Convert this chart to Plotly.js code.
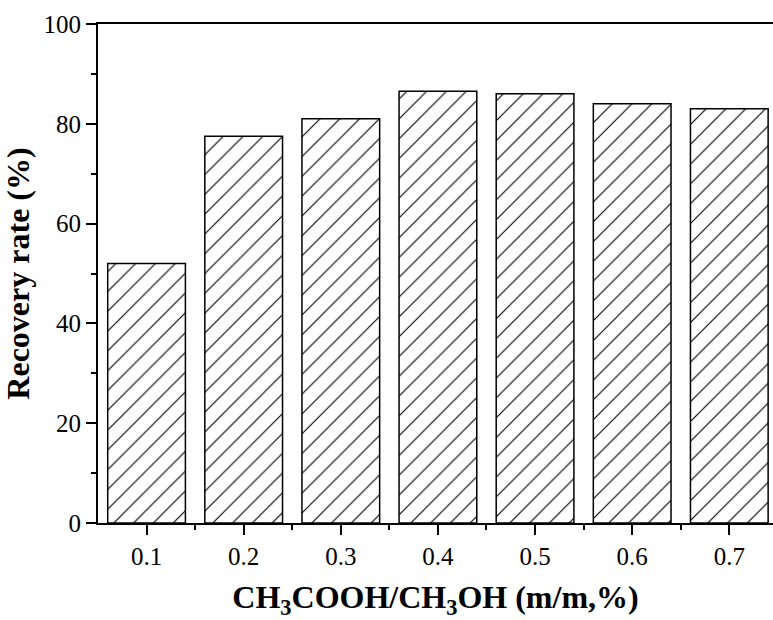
<!DOCTYPE html>
<html>
<head>
<meta charset="utf-8">
<script src="https://cdn.plot.ly/plotly-3.0.1.min.js"></script>
<style>html,body{margin:0;padding:0;background:#fff;}#chart{width:773px;height:620px;}</style>
</head>
<body>
<div id="chart"></div>
<script>
const categories = ["0.1", "0.2", "0.3", "0.4", "0.5", "0.6", "0.7"];
const recoveryRate = [52, 77.5, 81, 86.5, 86, 84, 83];
const yTickVals = [0, 20, 40, 60, 80, 100];

const xIdx = categories.map((_, i) => i);
const minorX = categories.slice(0, -1).map((_, i) => i + 0.5);

const font = "Liberation Serif";

const trace = {
  type: "bar",
  x: xIdx,
  y: recoveryRate,
  width: 0.8,
  marker: {
    color: "white",
    line: {color: "black", width: 1.5},
    pattern: {shape: "/", fgcolor: "black", bgcolor: "white", size: 14, solidity: 0.08}
  },
  hoverinfo: "skip"
};

const layout = {
  width: 773, height: 620,
  margin: {l: 98, r: 0, t: 24, b: 97},
  paper_bgcolor: "white", plot_bgcolor: "white",
  showlegend: false,
  font: {family: font, color: "black", size: 25},
  xaxis: {
    type: "linear",
    range: [-0.5, 6.45],
    tickmode: "array", tickvals: xIdx, ticktext: categories,
    ticks: "outside", ticklen: 10, tickwidth: 2, tickcolor: "black",
    minor: {tickmode: "array", tickvals: minorX, ticks: "outside", ticklen: 5, tickwidth: 2, tickcolor: "black"},
    showline: true, linewidth: 2, linecolor: "black", mirror: true,
    showgrid: false, zeroline: false,
    tickfont: {family: font, size: 25, color: "black"},
    title: {text: "<b>CH<sub>3</sub>COOH/CH<sub>3</sub>OH (m/m,%)</b>", font: {family: font, size: 32, color: "black"}, standoff: 20}
  },
  yaxis: {
    range: [0, 100],
    tickmode: "array", tickvals: yTickVals,
    ticks: "outside", ticklen: 10, tickwidth: 2, tickcolor: "black",
    minor: {dtick: 10, ticks: "outside", ticklen: 5, tickwidth: 2, tickcolor: "black"},
    showline: true, linewidth: 2, linecolor: "black",
    showgrid: false, zeroline: false,
    tickfont: {family: font, size: 25, color: "black"},
    title: {text: "<b>Recovery rate (%)</b>", font: {family: font, size: 32, color: "black"}, standoff: 4}
  }
};

Plotly.newPlot("chart", [trace], layout, {displayModeBar: false, staticPlot: true});
</script>
</body>
</html>
